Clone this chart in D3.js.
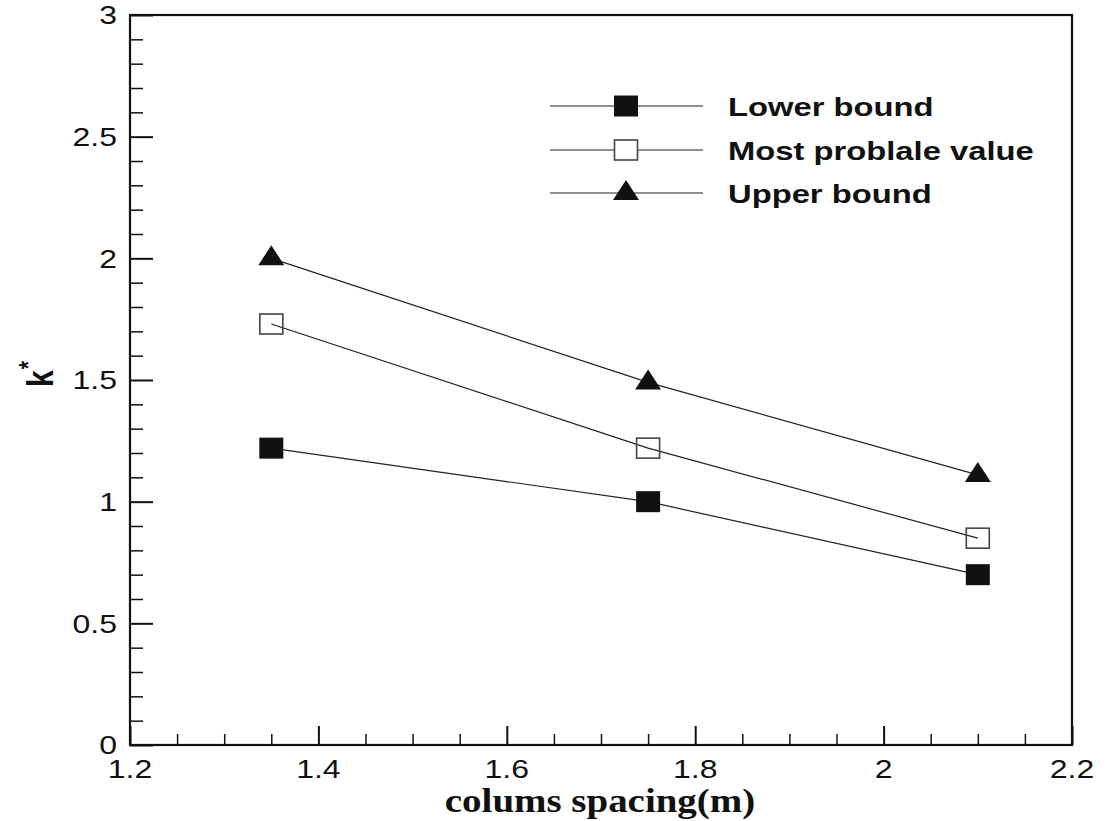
<!DOCTYPE html>
<html>
<head>
<meta charset="utf-8">
<script src="https://cdn.jsdelivr.net/npm/d3@7"></script>
<style>
  html, body { margin: 0; padding: 0; background: #fff; }
  svg { display: block; }
</style>
</head>
<body>
<svg id="chart" width="1109" height="821"></svg>
<script>
// Column spacing (m) and the three k* estimates
const spacing = [1.35, 1.75, 2.1];
const lowerBound = [1.22, 1.0, 0.7];
const mostProbable = [1.73, 1.22, 0.85];
const upperBound = [2.0, 1.49, 1.11];

const seriesNames = ["Lower bound", "Most problale value", "Upper bound"];
const xTickValues = [1.2, 1.4, 1.6, 1.8, 2.0, 2.2];
const yTickValues = [0, 0.5, 1, 1.5, 2, 2.5, 3];
const xLabel = "colums spacing(m)";
const yLabel = "k";

const SX = 1.23; // horizontal text stretch
const svg = d3.select("#chart");
const plotLeft = 130, plotRight = 1072, plotTop = 15, plotBottom = 745;

const x = d3.scaleLinear().domain([1.2, 2.2]).range([plotLeft, plotRight]);
const y = d3.scaleLinear().domain([0, 3]).range([plotBottom, plotTop]);

const sans = "'Liberation Sans', Arial, Helvetica, sans-serif";
const serif = "'Liberation Serif', 'Times New Roman', serif";

// minor + major ticks, pointing inward
const xMinor = d3.range(1.2, 2.2001, 0.05).filter(v => Math.abs(v * 5 - Math.round(v * 5)) > 1e-6);
const yMinor = d3.range(0, 3.0001, 0.1).filter(v => Math.abs(v * 2 - Math.round(v * 2)) > 1e-6);

function styleAxis(g, w) {
  g.select(".domain").remove();
  g.selectAll("line").attr("stroke", "#111").attr("stroke-width", w);
  g.selectAll("text").remove();
}

svg.append("g").attr("transform", `translate(0,${plotBottom})`)
  .call(d3.axisBottom(x).tickValues(xMinor).tickSize(-11))
  .call(g => styleAxis(g, 1.5));
svg.append("g").attr("transform", `translate(0,${plotBottom})`)
  .call(d3.axisBottom(x).tickValues(xTickValues).tickSize(-19))
  .call(g => styleAxis(g, 2));
svg.append("g").attr("transform", `translate(${plotLeft},0)`)
  .call(d3.axisLeft(y).tickValues(yMinor).tickSize(-13))
  .call(g => styleAxis(g, 1.5));
svg.append("g").attr("transform", `translate(${plotLeft},0)`)
  .call(d3.axisLeft(y).tickValues(yTickValues).tickSize(-23))
  .call(g => styleAxis(g, 2));

// frame
svg.append("rect")
  .attr("x", plotLeft).attr("y", plotTop)
  .attr("width", plotRight - plotLeft).attr("height", plotBottom - plotTop)
  .attr("fill", "none").attr("stroke", "#111").attr("stroke-width", 2.2);

// tick labels
svg.append("g").selectAll("text").data(xTickValues).join("text")
  .attr("transform", d => `translate(${x(d)},778) scale(${SX},1)`)
  .attr("text-anchor", "middle")
  .attr("font-family", sans).attr("font-size", 26).attr("fill", "#111")
  .text(d => d3.format("~g")(d));

svg.append("g").selectAll("text").data(yTickValues).join("text")
  .attr("transform", d => `translate(117,${y(d)}) scale(${SX},1)`)
  .attr("text-anchor", "end").attr("dy", "0.36em")
  .attr("font-family", sans).attr("font-size", 26).attr("fill", "#111")
  .text(d => d3.format("~g")(d));

// axis titles
svg.append("text")
  .attr("transform", `translate(600,812) scale(1.18,1)`)
  .attr("text-anchor", "middle")
  .attr("font-family", serif).attr("font-weight", "bold").attr("font-size", 33)
  .attr("fill", "#111")
  .text(xLabel);

const yt = svg.append("text")
  .attr("transform", `translate(53,387) rotate(-90) scale(1,${SX})`)
  .attr("text-anchor", "start")
  .attr("font-family", sans).attr("font-weight", "bold").attr("font-size", 30)
  .attr("fill", "#111");
yt.append("tspan").text(yLabel);
yt.append("tspan").attr("dy", -13).attr("dx", 1).attr("font-size", 21).text("*");

// series
const series = [
  { name: seriesNames[0], values: lowerBound, marker: "filledSquare" },
  { name: seriesNames[1], values: mostProbable, marker: "openSquare" },
  { name: seriesNames[2], values: upperBound, marker: "triangle" }
];

const line = d3.line().x(d => x(d[0])).y(d => y(d[1]));

function drawMarker(g, type, cx, cy, legend) {
  if (type === "filledSquare") {
    g.append("rect").attr("x", cx - 12).attr("y", cy - 10.5)
      .attr("width", 24).attr("height", 21).attr("fill", "#111");
  } else if (type === "openSquare") {
    g.append("rect").attr("x", cx - 11.5).attr("y", cy - 10)
      .attr("width", 23).attr("height", 20)
      .attr("fill", legend ? "#fff" : "none")
      .attr("stroke", "#444").attr("stroke-width", 1.6);
  } else {
    g.append("path")
      .attr("d", `M${cx},${cy - 13}L${cx + 13},${cy + 7}L${cx - 13},${cy + 7}Z`)
      .attr("fill", "#111");
  }
}

series.forEach(s => {
  const pts = spacing.map((v, i) => [v, s.values[i]]);
  svg.append("path").datum(pts).attr("d", line)
    .attr("fill", "none").attr("stroke", "#222").attr("stroke-width", 1.2);
  const g = svg.append("g");
  pts.forEach(p => drawMarker(g, s.marker, x(p[0]), y(p[1]), false));
});

// legend
const legendY = [106, 150, 193];
series.forEach((s, i) => {
  const g = svg.append("g");
  g.append("line").attr("x1", 550).attr("x2", 703)
    .attr("y1", legendY[i]).attr("y2", legendY[i])
    .attr("stroke", "#222").attr("stroke-width", 1.2);
  drawMarker(g, s.marker, 626, legendY[i], true);
  g.append("text")
    .attr("transform", `translate(728,${legendY[i] + 9.5}) scale(1.26,1)`)
    .attr("font-family", sans).attr("font-weight", "bold").attr("font-size", 26)
    .attr("fill", "#111")
    .text(s.name);
});
</script>
</body>
</html>
